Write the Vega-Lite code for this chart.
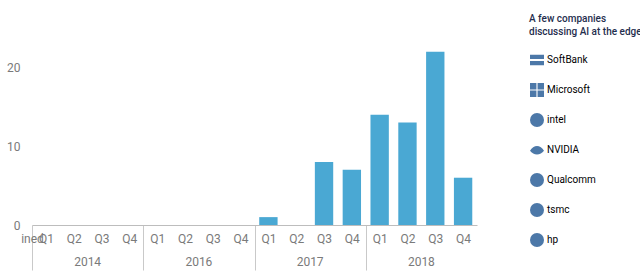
{
  "$schema": "https://vega.github.io/schema/vega-lite/v6.json",
  "width": 445,
  "height": 197,
  "autosize": {"type": "none"},
  "padding": {"left": 32, "top": 28, "right": 163, "bottom": 49},
  "background": "white",
  "config": {"view": {"stroke": null}, "font": "Roboto"},
  "datasets": {
    "quarters": [
      {"period": "2014 Q1", "quarter": "Q1", "year": "2014", "count": 0},
      {"period": "2014 Q2", "quarter": "Q2", "year": "2014", "count": 0},
      {"period": "2014 Q3", "quarter": "Q3", "year": "2014", "count": 0},
      {"period": "2014 Q4", "quarter": "Q4", "year": "2014", "count": 0},
      {"period": "2016 Q1", "quarter": "Q1", "year": "2016", "count": 0},
      {"period": "2016 Q2", "quarter": "Q2", "year": "2016", "count": 0},
      {"period": "2016 Q3", "quarter": "Q3", "year": "2016", "count": 0},
      {"period": "2016 Q4", "quarter": "Q4", "year": "2016", "count": 0},
      {"period": "2017 Q1", "quarter": "Q1", "year": "2017", "count": 1},
      {"period": "2017 Q2", "quarter": "Q2", "year": "2017", "count": 0},
      {"period": "2017 Q3", "quarter": "Q3", "year": "2017", "count": 8},
      {"period": "2017 Q4", "quarter": "Q4", "year": "2017", "count": 7},
      {"period": "2018 Q1", "quarter": "Q1", "year": "2018", "count": 14},
      {"period": "2018 Q2", "quarter": "Q2", "year": "2018", "count": 13},
      {"period": "2018 Q3", "quarter": "Q3", "year": "2018", "count": 22},
      {"period": "2018 Q4", "quarter": "Q4", "year": "2018", "count": 6}
    ],
    "companies": [
      {"company": "SoftBank"},
      {"company": "Microsoft"},
      {"company": "intel"},
      {"company": "NVIDIA"},
      {"company": "Qualcomm"},
      {"company": "tsmc"},
      {"company": "hp"}
    ]
  },
  "layer": [
    {
      "data": {"name": "quarters"},
      "mark": {"type": "bar", "color": "#4aa8d3", "width": {"band": 0.66}},
      "encoding": {
        "x": {
          "field": "period",
          "type": "ordinal",
          "sort": null,
          "scale": {"paddingInner": 0, "paddingOuter": 0},
          "axis": {
            "title": null,
            "labelExpr": "substring(datum.value, 5)",
            "labelAngle": 0,
            "labelColor": "#7a7a7a",
            "labelFontSize": 12,
            "labelPadding": -37,
            "labelOverlap": false,
            "domainColor": "#bdbdbd",
            "tickBand": "extent",
            "tickSize": 45,
            "tickColor": {"condition": {"test": "datum.extra || (indexof(datum.value, 'Q4') >= 0 && datum.value != '2018 Q4')", "value": "#c9c9c9"}, "value": "rgba(0,0,0,0)"}
          }
        },
        "y": {
          "field": "count",
          "type": "quantitative",
          "scale": {"domain": [0, 25], "nice": false},
          "axis": {
            "title": null,
            "domain": false,
            "ticks": false,
            "grid": false,
            "values": [0, 5, 10, 15, 20, 25],
            "labelOverlap": false,
            "labelFlush": false,
            "labelColor": "#7a7a7a",
            "labelFontSize": 12,
            "labelPadding": 12
          }
        }
      }
    },
    {
      "data": {"name": "quarters"},
      "mark": {"type": "text", "color": "#7a7a7a", "fontSize": 12, "baseline": "middle", "align": "center"},
      "encoding": {
        "x": {"field": "period", "type": "ordinal", "sort": null, "bandPosition": 1},
        "y": {"datum": -4.75, "type": "quantitative"},
        "text": {"condition": {"test": "datum.quarter == 'Q2'", "field": "year"}, "value": ""}
      }
    },
    {
      "data": {"name": "companies"},
      "mark": {"type": "point", "opacity": 0, "filled": true},
      "encoding": {
        "shape": {
          "field": "company",
          "type": "nominal",
          "sort": null,
          "scale": {
            "domain": ["SoftBank", "Microsoft", "intel", "NVIDIA", "Qualcomm", "tsmc", "hp"],
            "range": [
              "M-1,-0.75H1V-0.15H-1Z M-1,0.15H1V0.75H-1Z",
              "M-1,-1H-0.08V-0.08H-1Z M0.08,-1H1V-0.08H0.08Z M-1,0.08H-0.08V1H-1Z M0.08,0.08H1V1H0.08Z",
              "circle",
              "M-1,0.1C-0.5,-0.8 0.5,-0.8 1,0.1C0.5,0.8 -0.5,0.8 -1,0.1Z",
              "circle",
              "circle",
              "circle"
            ]
          },
          "legend": {
            "orient": "none",
            "legendX": 497,
            "legendY": -14,
            "title": ["A few companies", "discussing AI at the edge"],
            "titleFont": "Roboto",
            "titleFontSize": 10,
            "titleFontWeight": 500,
            "titleColor": "#1f2e4e",
            "titleLineHeight": 13,
            "titlePadding": 8,
            "titleLimit": 300,
            "symbolSize": 196,
            "clipHeight": 30,
            "rowPadding": 0,
            "labelOffset": 2,
            "labelLimit": 200,
            "encode": {
              "symbols": {
                "opacity": {"value": 1},
                "stroke": {"value": "transparent"},
                "fill": {"signal": "datum.value == 'tsmc' ? '#d2d2d2' : ((datum.value == 'intel' || datum.value == 'Qualcomm') ? 'transparent' : '#1b2a4a')"},
                "size": {"signal": "datum.value == 'hp' ? 420 : datum.value == 'tsmc' ? 400 : datum.value == 'NVIDIA' ? 170 : datum.value == 'Microsoft' ? 150 : 196"}
              },
              "labels": {
                "font": {"signal": "datum.label == 'SoftBank' ? 'Liberation Serif' : 'Roboto'"},
                "fontSize": {"signal": "datum.label == 'SoftBank' ? 15 : datum.label == 'Microsoft' ? 10.5 : datum.label == 'NVIDIA' ? 8.5 : datum.label == 'Qualcomm' ? 11.5 : datum.label == 'tsmc' ? 12 : datum.label == 'hp' ? 13 : 11"},
                "fontWeight": {"signal": "(datum.label == 'Microsoft' || datum.label == 'NVIDIA' || datum.label == 'tsmc' || datum.label == 'hp') ? 'bold' : 'normal'"},
                "fontStyle": {"signal": "datum.label == 'hp' ? 'italic' : 'normal'"},
                "fill": {"signal": "datum.label == 'hp' ? 'white' : '#1b2a4a'"},
                "dx": {"signal": "datum.label == 'SoftBank' ? 0 : datum.label == 'Microsoft' ? -3 : -17"},
                "dy": {"signal": "datum.label == 'NVIDIA' ? 9 : 0"}
              }
            }
          }
        }
      }
    }
  ]
}
